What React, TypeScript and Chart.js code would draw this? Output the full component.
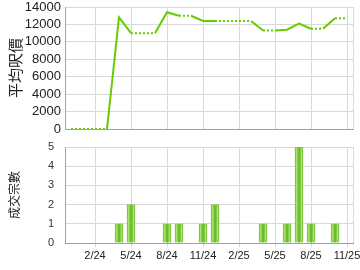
import React, { useEffect, useRef } from "react";
import { Chart, registerables } from "chart.js";

Chart.register(...registerables);

const months = [
  "12/23", "1/24", "2/24", "3/24", "4/24", "5/24", "6/24", "7/24", "8/24", "9/24", "10/24", "11/24",
  "12/24", "1/25", "2/25", "3/25", "4/25", "5/25", "6/25", "7/25", "8/25", "9/25", "10/25", "11/25",
];
const tickLabels = ["2/24", "5/24", "8/24", "11/24", "2/25", "5/25", "8/25", "11/25"];
const avgPrice = [
  0, 0, 0, 0, 12800, 11000, 11000, 11000, 13400, 13000, 13000, 12400,
  12400, 12400, 12400, 12400, 11300, 11300, 11400, 12100, 11500, 11500, 12700, 12700,
];
const deals = [
  0, 0, 0, 0, 1, 2, 0, 0, 1, 1, 0, 1,
  2, 0, 0, 0, 1, 0, 1, 5, 1, 0, 1, 0,
];

const GRID = "#d9d9d9";
const AXIS = "#a0a0a0";
const LINE = "#66cc00";
const showTick = (i: number) => tickLabels.includes(months[i]);

const rightBorder = {
  id: "rightBorder",
  afterDraw(chart: any) {
    const { ctx, chartArea } = chart;
    ctx.save();
    ctx.strokeStyle = GRID;
    ctx.lineWidth = 1;
    const x = Math.round(chartArea.right) + 0.5;
    ctx.beginPath();
    ctx.moveTo(x, chartArea.top);
    ctx.lineTo(x, chartArea.bottom);
    ctx.stroke();
    ctx.restore();
  },
};

export default function App() {
  const topRef = useRef<HTMLCanvasElement>(null);
  const botRef = useRef<HTMLCanvasElement>(null);

  useEffect(() => {
    const xGrid = {
      offset: false,
      color: (c: any) => (showTick(c.index) ? GRID : "rgba(0,0,0,0)"),
      drawTicks: false,
    };
    const top = new Chart(topRef.current!, {
      type: "line",
      data: {
        labels: months,
        datasets: [
          {
            data: avgPrice,
            borderColor: LINE,
            borderWidth: 2,
            pointRadius: 0,
            tension: 0,
            fill: false,
            segment: {
              borderDash: (c: any) => (deals[c.p1DataIndex] > 0 ? [] : [2, 2]),
            },
          },
        ],
      },
      options: {
        responsive: false,
        animation: false,
        layout: { padding: { top: 7, right: 7, left: 0, bottom: 0 } },
        plugins: { legend: { display: false }, tooltip: { enabled: false } },
        scales: {
          x: {
            type: "category",
            offset: true,
            grid: xGrid as any,
            ticks: { display: false },
            border: { color: AXIS },
            afterFit: (s: any) => {
              s.height = 6;
              s.paddingLeft = 0;
              s.paddingRight = 0;
            },
          },
          y: {
            min: 0,
            max: 14000,
            ticks: {
              stepSize: 2000,
              autoSkip: false,
              padding: 4,
              color: "#222",
              font: { family: "'Liberation Sans', Arial, sans-serif", size: 13 },
              callback: (v: any) => String(v),
            },
            grid: { color: GRID, drawTicks: false },
            border: { color: AXIS },
            title: {
              display: true,
              text: "平均呎價",
              color: "#222",
              font: { family: "'Noto Sans CJK TC', sans-serif", size: 15 },
              padding: { top: 6, bottom: 0 },
            },
            afterFit: (s: any) => {
              s.width = 65;
              s.paddingTop = 0;
              s.paddingBottom = 0;
            },
          },
        },
      },
      plugins: [rightBorder],
    });

    const bot = new Chart(botRef.current!, {
      type: "bar",
      data: {
        labels: months,
        datasets: [
          {
            data: deals,
            barThickness: 8,
            borderWidth: 1,
            borderColor: "#7cc63c",
            borderSkipped: "start",
            backgroundColor: (c: any) => {
              const xs = c.chart.scales && c.chart.scales.x;
              if (!xs || c.type !== "data") return "#8fd050";
              const cx = xs.getPixelForValue(c.dataIndex);
              if (!isFinite(cx)) return "#8fd050";
              const g = c.chart.ctx.createLinearGradient(cx - 4, 0, cx + 4, 0);
              g.addColorStop(0, "#7ac238");
              g.addColorStop(0.2, "#ade276");
              g.addColorStop(0.45, "#6cbc28");
              g.addColorStop(0.6, "#6cbc28");
              g.addColorStop(0.82, "#ade276");
              g.addColorStop(1, "#7ac238");
              return g;
            },
          },
        ],
      },
      options: {
        responsive: false,
        animation: false,
        layout: { padding: { top: 12, right: 7, left: 0, bottom: 0 } },
        plugins: { legend: { display: false }, tooltip: { enabled: false } },
        scales: {
          x: {
            type: "category",
            offset: true,
            grid: { ...xGrid, drawTicks: true, tickLength: 4, tickColor: (c: any) => (showTick(c.index) ? GRID : "rgba(0,0,0,0)") } as any,
            ticks: {
              autoSkip: false,
              maxRotation: 0,
              padding: 2,
              color: "#222",
              font: { family: "'Liberation Sans', Arial, sans-serif", size: 11 },
              callback: (_v: any, i: number) => (showTick(i) ? months[i] : ""),
            },
            border: { color: AXIS },
            afterFit: (s: any) => {
              s.height = 27;
              s.paddingLeft = 0;
              s.paddingRight = 0;
            },
          },
          y: {
            min: 0,
            max: 5,
            ticks: {
              stepSize: 1,
              autoSkip: false,
              padding: 11,
              color: "#333",
              font: { family: "'Liberation Sans', Arial, sans-serif", size: 11 },
            },
            grid: { color: GRID, drawTicks: false },
            border: { color: AXIS },
            title: {
              display: true,
              text: "成交宗數",
              color: "#222",
              font: { family: "'Noto Sans CJK TC', sans-serif", size: 12 },
              padding: { top: 7, bottom: 0 },
            },
            afterFit: (s: any) => {
              s.width = 65;
              s.paddingTop = 0;
              s.paddingBottom = 0;
            },
          },
        },
      },
      plugins: [rightBorder],
    });

    return () => {
      top.destroy();
      bot.destroy();
    };
  }, []);

  return (
    <div style={{ position: "absolute", left: 0, top: 0, width: 360, height: 270, background: "#fff" }}>
      <canvas ref={topRef} width={360} height={135} style={{ display: "block", width: 360, height: 135 }} />
      <canvas ref={botRef} width={360} height={135} style={{ display: "block", width: 360, height: 135 }} />
    </div>
  );
}
